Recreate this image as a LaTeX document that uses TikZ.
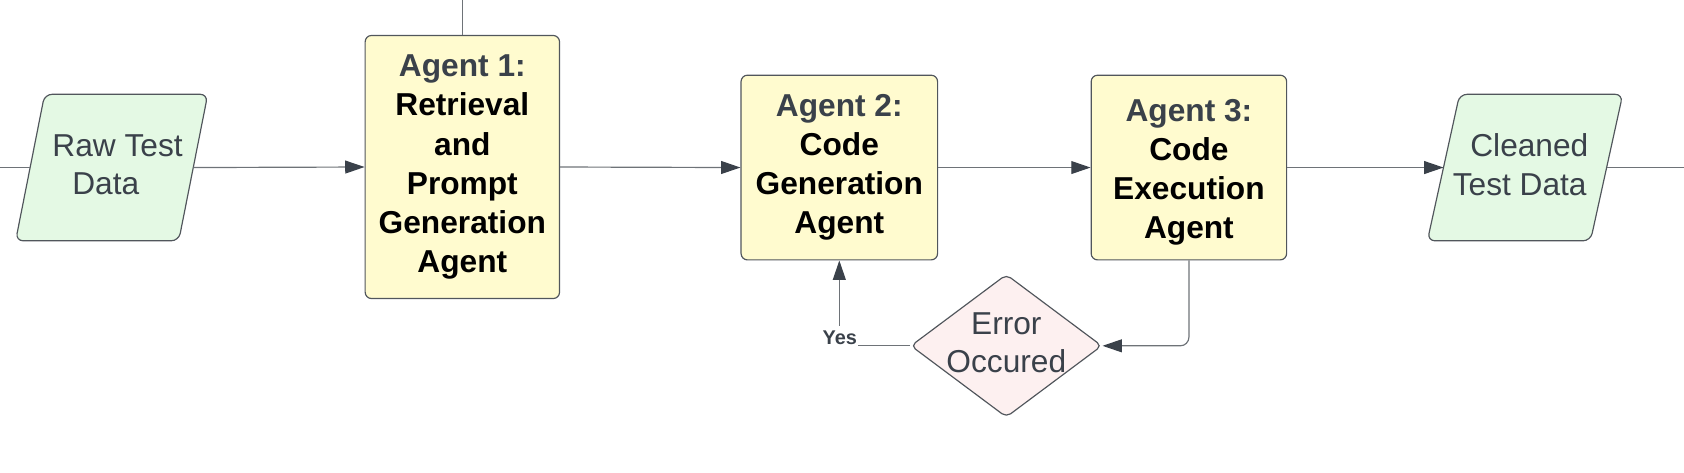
\documentclass[tikz,border=0pt]{standalone}
\usepackage{fontspec}
\setmainfont{Liberation Sans}
\usetikzlibrary{shapes.geometric,arrows.meta,calc}
\definecolor{bordc}{HTML}{51565C}
\definecolor{linec}{HTML}{6E7378}
\definecolor{tipc}{HTML}{3A414A}
\definecolor{txtgray}{HTML}{3A414A}
\definecolor{agentfill}{HTML}{FFFBCF}
\definecolor{datafill}{HTML}{E4F9E4}
\definecolor{errfill}{HTML}{FDF0F0}
\tikzset{
  agentbox/.style={draw=bordc, fill=agentfill, line width=1.1pt, rounded corners=6pt,
    inner sep=0pt, align=center, font=\fontsize{29.5}{36.4}\selectfont\bfseries},
  databox/.style={inner sep=0pt, minimum width=151.5pt, minimum height=136pt, align=center,
    text=txtgray, font=\fontsize{29.5}{36}\selectfont},
  datatext/.style={inner sep=0pt, align=center, text=txtgray, font=\fontsize{29.5}{36}\selectfont},
  dataframe/.style={draw=bordc, fill=datafill, line width=1.1pt, rounded corners=7pt},
  errdia/.style={diamond, draw=bordc, fill=errfill, line width=1.1pt, rounded corners=5pt,
    minimum width=178pt, minimum height=133pt, inner sep=0pt},
  errtext/.style={align=center, text=txtgray, inner sep=0pt, font=\fontsize{29.5}{36}\selectfont},
  conn/.style={draw=linec, line width=1.1pt},
  arr/.style={conn, -{Triangle[length=18pt,width=12pt,fill=tipc,color=tipc]}},
  yeslbl/.style={fill=white, anchor=base, inner xsep=1pt, inner ysep=4pt, text height=13pt, text depth=0pt,
    text=txtgray, font=\fontsize{18.5}{20}\selectfont\bfseries},
}
\newcommand{\agtitle}[1]{\textcolor{txtgray}{#1}}
\begin{document}
\begin{tikzpicture}[x=1pt,y=-1pt]
\useasboundingbox (0,0) rectangle (1568,439.5);

% data nodes (parallelograms)
\node[databox] (raw) at (104,156) {};
\draw[dataframe] ($(raw.south west)+(-13.5,0)$) -- ($(raw.north west)+(13.5,0)$) --
  ($(raw.north east)+(13.5,0)$) -- ($(raw.south east)+(-13.5,0)$) -- cycle;
\node[datatext] (rawtxt) at (104,153.5) {\hspace*{11pt}Raw Test\\Data\hspace*{11pt}};

\node[databox] (clean) at (1420,156) {};
\draw[dataframe] ($(clean.south west)+(-15,0)$) -- ($(clean.north west)+(15,0)$) --
  ($(clean.north east)+(15,0)$) -- ($(clean.south east)+(-15,0)$) -- cycle;
\node[datatext] (cleantxt) at (1419.5,153.5) {\hspace*{9pt}Cleaned\\Test Data\hspace*{9pt}};

% agents
\node[agentbox, minimum width=181pt, minimum height=245pt] (a1) at (430.5,155.5)
  {\agtitle{Agent 1:}\\Retrieval\\and\\Prompt\\Generation\\Agent};
\node[agentbox, minimum width=183pt, minimum height=172pt] (a2) at (781.5,156)
  {\agtitle{Agent 2:}\\Code\\Generation\\Agent};
\node[agentbox, minimum width=182pt, minimum height=172pt] (a3) at (1107,156)
  {\rule{0pt}{30pt}\agtitle{Agent 3:}\\Code\\Execution\\Agent};

% decision
\node[errdia] (err) at (937,322) {};
\node[errtext] (errtxt) at (937,319) {Error\\Occured};

% free ends
\coordinate (lin) at (0,156);
\coordinate (rout) at (1568,156);
\coordinate (topend) at (430.5,0);

% connectors
\draw[conn] (lin) -- (raw.west);
\draw[arr] (raw.east) -- (a1.west);
\draw[conn] (a1.north) -- (topend);
\draw[arr] (a1.east) -- (a2.west);
\draw[arr] (a2.east) -- (a3.west);
\draw[arr] (a3.east) -- (clean.west);
\draw[conn] (clean.east) -- (rout);
\draw[arr, rounded corners=8pt] (a3.south) |- (err.east);
\draw[arr] (err.west) -| (a2.south);
\node[yeslbl] (yes) at (782,321) {Yes};
\end{tikzpicture}
\end{document}
